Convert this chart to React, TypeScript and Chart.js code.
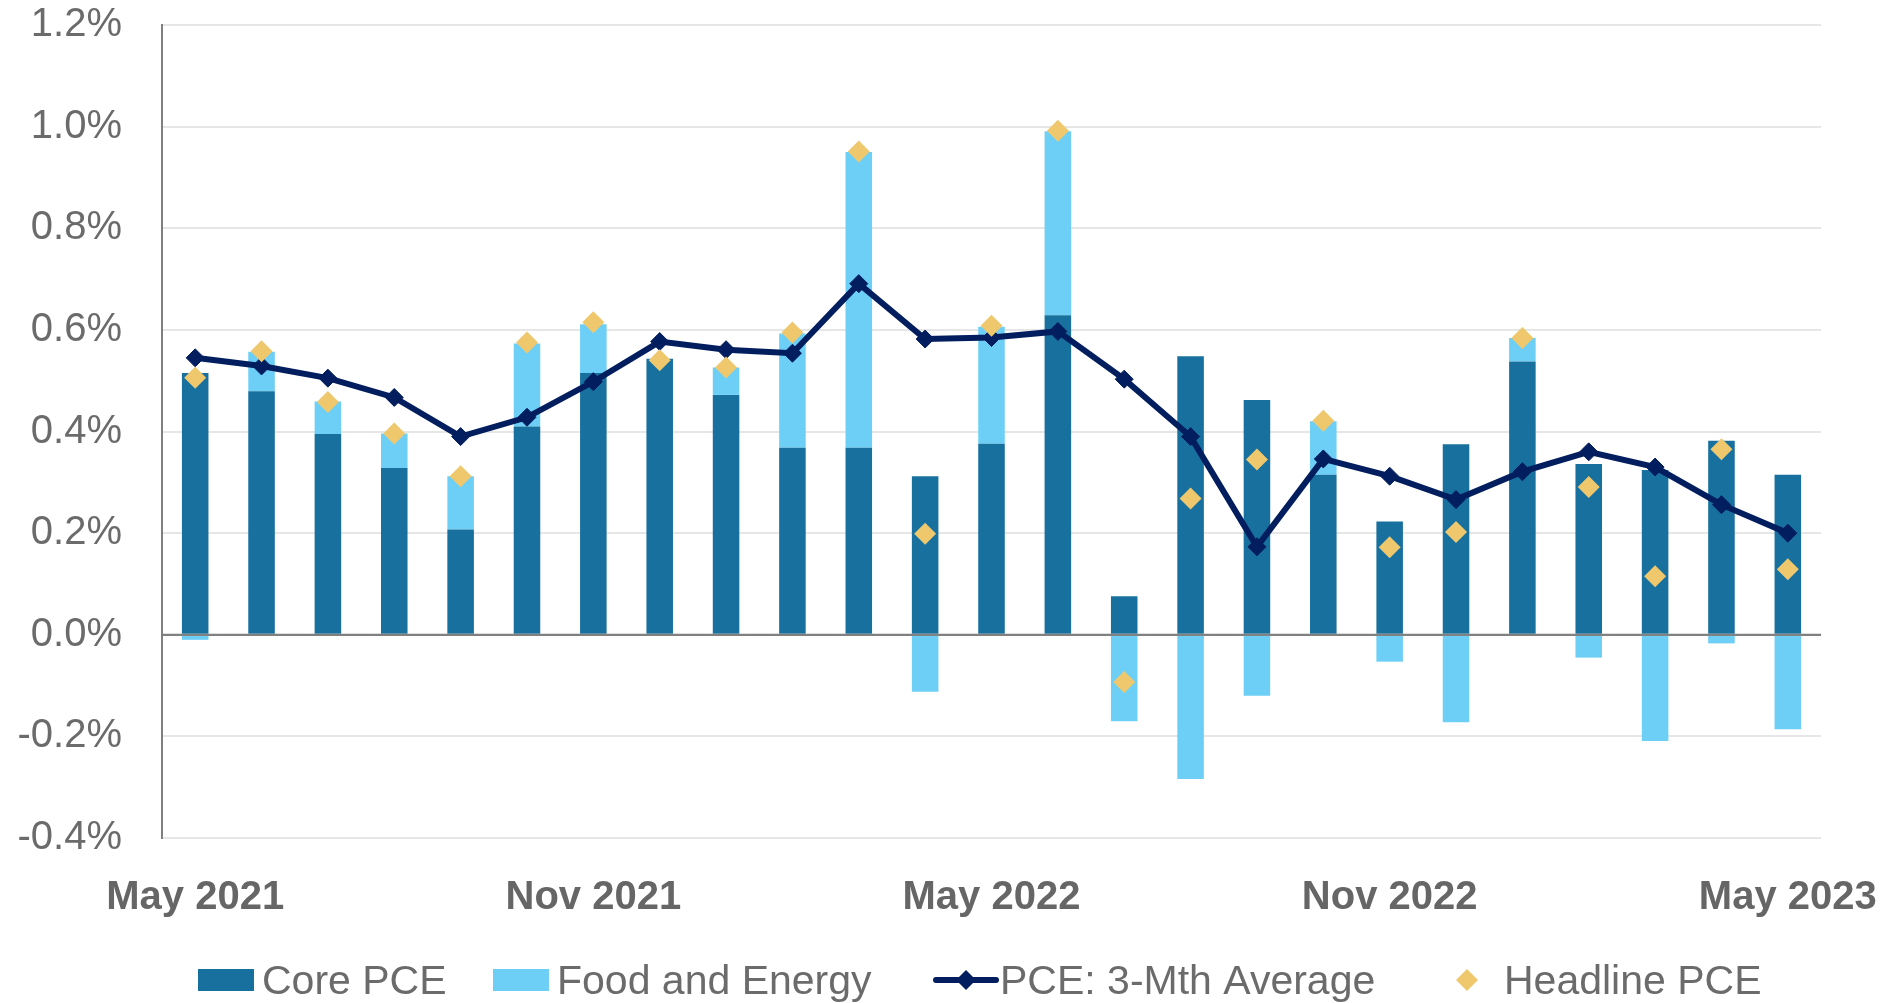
import React, { useEffect, useRef } from 'react';
import { Chart, registerables } from 'chart.js';

Chart.register(...registerables);

const months = [
  'May 2021', 'Jun 2021', 'Jul 2021', 'Aug 2021', 'Sep 2021', 'Oct 2021', 'Nov 2021', 'Dec 2021',
  'Jan 2022', 'Feb 2022', 'Mar 2022', 'Apr 2022', 'May 2022', 'Jun 2022', 'Jul 2022', 'Aug 2022',
  'Sep 2022', 'Oct 2022', 'Nov 2022', 'Dec 2022', 'Jan 2023', 'Feb 2023', 'Mar 2023', 'Apr 2023', 'May 2023',
];

const shownTickLabels = ['May 2021', 'Nov 2021', 'May 2022', 'Nov 2022', 'May 2023'];

const corePCE = [
  0.515, 0.479, 0.395, 0.328, 0.207, 0.41, 0.515, 0.543,
  0.472, 0.368, 0.368, 0.312, 0.376, 0.629, 0.076, 0.548,
  0.462, 0.315, 0.223, 0.375, 0.538, 0.336, 0.324, 0.382, 0.315,
];

const foodEnergy = [
  -0.01, 0.078, 0.064, 0.068, 0.105, 0.163, 0.096, 0.0,
  0.054, 0.225, 0.582, -0.112, 0.23, 0.362, -0.17, -0.284,
  -0.12, 0.105, -0.053, -0.172, 0.046, -0.045, -0.209, -0.017, -0.186,
];

const avg3Mth = [
  0.545, 0.529, 0.505, 0.467, 0.39, 0.428, 0.498, 0.577,
  0.561, 0.554, 0.691, 0.582, 0.585, 0.597, 0.503, 0.39,
  0.173, 0.346, 0.312, 0.266, 0.321, 0.36, 0.33, 0.256, 0.2,
];

const headlinePCE = [
  0.506, 0.558, 0.458, 0.396, 0.312, 0.575, 0.615, 0.54,
  0.526, 0.595, 0.951, 0.199, 0.608, 0.992, -0.093, 0.268,
  0.345, 0.421, 0.172, 0.202, 0.584, 0.291, 0.115, 0.365, 0.129,
];

const COLORS = {
  core: '#17709E',
  food: '#6DCFF6',
  avg: '#021E5E',
  headline: '#EFC86E',
  text: '#6B6B6B',
  grid: '#E6E6E6',
  axis: '#808080',
};

const FONT = '"Liberation Sans", Arial, sans-serif';

export default function App() {
  const ref = useRef<HTMLCanvasElement | null>(null);

  useEffect(() => {
    if (!ref.current) return;

    const drawDiamond = (ctx: CanvasRenderingContext2D, cx: number, cy: number, r: number, color: string) => {
      ctx.beginPath();
      ctx.moveTo(cx, cy - r);
      ctx.lineTo(cx + r, cy);
      ctx.lineTo(cx, cy + r);
      ctx.lineTo(cx - r, cy);
      ctx.closePath();
      ctx.fillStyle = color;
      ctx.fill();
    };

    const customPlugin = {
      id: 'customDecor',
      afterDatasetsDraw(chart: any) {
        const ctx = chart.ctx as CanvasRenderingContext2D;
        const y = chart.scales.y;
        const area = chart.chartArea;
        const zy = y.getPixelForValue(0);
        ctx.save();
        ctx.strokeStyle = COLORS.axis;
        ctx.lineWidth = 2;
        ctx.beginPath();
        ctx.moveTo(area.left, zy);
        ctx.lineTo(area.right, zy);
        ctx.stroke();
        ctx.restore();
      },
      afterDraw(chart: any) {
        const ctx = chart.ctx as CanvasRenderingContext2D;
        const x = chart.scales.x;
        ctx.save();
        // x-axis labels
        ctx.font = `bold 40px ${FONT}`;
        ctx.fillStyle = '#666666';
        ctx.textAlign = 'center';
        ctx.textBaseline = 'alphabetic';
        months.forEach((m, i) => {
          if (shownTickLabels.includes(m)) {
            ctx.fillText(m, x.getPixelForTick(i), 909);
          }
        });

        // legend
        const ly = 980;
        const base = 994;
        ctx.font = `41px ${FONT}`;
        ctx.textAlign = 'left';

        ctx.fillStyle = COLORS.core;
        ctx.fillRect(198, ly - 11, 56, 22);
        ctx.fillStyle = COLORS.text;
        ctx.fillText('Core PCE', 262, base);

        ctx.fillStyle = COLORS.food;
        ctx.fillRect(493, ly - 11, 56, 22);
        ctx.fillStyle = COLORS.text;
        ctx.fillText('Food and Energy', 557, base);

        ctx.strokeStyle = COLORS.avg;
        ctx.lineWidth = 6;
        ctx.lineCap = 'round';
        ctx.beginPath();
        ctx.moveTo(936, ly);
        ctx.lineTo(996, ly);
        ctx.stroke();
        drawDiamond(ctx, 966, ly, 10, COLORS.avg);
        ctx.fillStyle = COLORS.text;
        ctx.fillText('PCE: 3-Mth Average', 1000, base);

        drawDiamond(ctx, 1467, ly, 11, COLORS.headline);
        ctx.fillStyle = COLORS.text;
        ctx.fillText('Headline PCE', 1504, base);

        ctx.restore();
      },
    };

    const chart = new Chart(ref.current, {
      type: 'bar',
      data: {
        labels: months,
        datasets: [
          {
            type: 'line',
            label: 'Headline PCE',
            data: headlinePCE,
            showLine: false,
            pointStyle: 'rectRot',
            pointRadius: 11,
            pointBackgroundColor: COLORS.headline,
            pointBorderColor: COLORS.headline,
            pointBorderWidth: 0,
            borderColor: COLORS.headline,
            backgroundColor: COLORS.headline,
            stack: 'headline',
            order: 0,
          } as any,
          {
            type: 'line',
            label: 'PCE: 3-Mth Average',
            data: avg3Mth,
            borderColor: COLORS.avg,
            backgroundColor: COLORS.avg,
            borderWidth: 6,
            pointStyle: 'rectRot',
            pointRadius: 9,
            pointBackgroundColor: COLORS.avg,
            pointBorderColor: COLORS.avg,
            pointBorderWidth: 1,
            tension: 0,
            fill: false,
            stack: 'avg',
            order: 1,
          } as any,
          {
            type: 'bar',
            label: 'Core PCE',
            data: corePCE,
            backgroundColor: COLORS.core,
            borderWidth: 0,
            stack: 'bars',
            order: 2,
            categoryPercentage: 0.4,
            barPercentage: 1,
          } as any,
          {
            type: 'bar',
            label: 'Food and Energy',
            data: foodEnergy,
            backgroundColor: COLORS.food,
            borderWidth: 0,
            stack: 'bars',
            order: 3,
            categoryPercentage: 0.4,
            barPercentage: 1,
          } as any,
        ],
      },
      options: {
        responsive: false,
        animation: false,
        devicePixelRatio: 1,
        layout: { padding: { left: 0, right: 55, top: 25, bottom: 165 } },
        plugins: {
          legend: { display: false },
          tooltip: { enabled: false },
        },
        scales: {
          x: {
            stacked: true,
            grid: { display: false },
            border: { display: false },
            ticks: { display: false },
            afterFit: (s: any) => {
              s.height = 0;
              s.paddingLeft = 0;
              s.paddingRight = 0;
            },
          },
          y: {
            stacked: true,
            min: -0.4,
            max: 1.2,
            ticks: {
              stepSize: 0.2,
              padding: 40,
              color: COLORS.text,
              font: { family: FONT, size: 40 },
              callback: (v: any) => `${Number(v).toFixed(1)}%`,
            },
            grid: {
              color: (c: any) => (Math.abs(c.tick.value) < 1e-9 ? COLORS.axis : COLORS.grid),
              lineWidth: 2,
              drawTicks: false,
            },
            border: { display: true, color: COLORS.axis, width: 2 },
            afterFit: (s: any) => {
              s.width = 162;
              s.paddingTop = 0;
              s.paddingBottom = 0;
            },
          },
        },
      },
      plugins: [customPlugin],
    } as any);

    return () => chart.destroy();
  }, []);

  return (
    <div style={{ position: 'absolute', left: 0, top: 0, width: 1876, height: 1003, background: '#fff' }}>
      <canvas ref={ref} width={1876} height={1003} />
    </div>
  );
}
